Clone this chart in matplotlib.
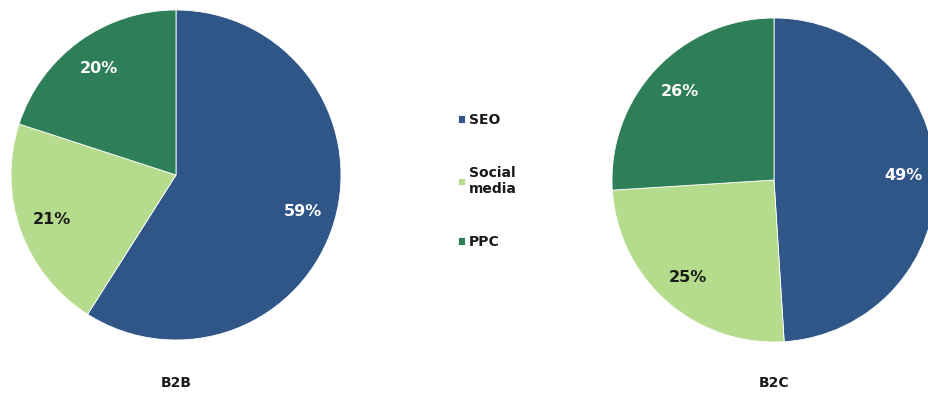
import matplotlib.pyplot as plt

# Data
categories = ['SEO', 'Social\nmedia', 'PPC']
b2b_values = [59, 21, 20]
b2c_values = [49, 25, 26]
titles = ['B2B', 'B2C']

colors = ['#2F5687', '#B5DC8C', '#2E7F57']
text_colors = ['white', '#1a1a1a', 'white']

W, H = 929, 409
fig = plt.figure(figsize=(W / 100, H / 100), dpi=100)

# pie centres and radii in pixels (x, y from top, r)
pies = [(176, 175, 165, b2b_values), (774, 180, 162, b2c_values)]

wedges_all = []
for (cx, cy, r, vals), title in zip(pies, titles):
    ax = fig.add_axes([(cx - r) / W, (H - cy - r) / H, 2 * r / W, 2 * r / H])
    wedges, texts, autotexts = ax.pie(vals, colors=colors, startangle=90, counterclock=False,
                                      autopct=lambda p: '%d%%' % round(p), pctdistance=0.8,
                                      radius=1, wedgeprops=dict(edgecolor='white', linewidth=0.6))
    for t, c in zip(autotexts, text_colors):
        t.set_color(c)
        t.set_fontsize(11.5)
        t.set_fontweight('bold')
    ax.set_xlim(-1, 1)
    ax.set_ylim(-1, 1)
    ax.set_aspect('equal')
    ax.axis('off')
    fig.text(cx / W, 1 - (383 / H), title, ha='center', va='center',
             fontsize=10, fontweight='bold', color='#1a1a1a')
    wedges_all = wedges

leg = fig.legend(wedges_all, categories, loc='center left', bbox_to_anchor=(446 / W, 1 - 181 / H),
                 frameon=False, handlelength=0.45, handleheight=0.45, handletextpad=0.3,
                 labelspacing=2.8, prop=dict(weight='bold', size=10))
for t in leg.get_texts():
    t.set_color('#1a1a1a')

plt.savefig('out.png', dpi=100)
